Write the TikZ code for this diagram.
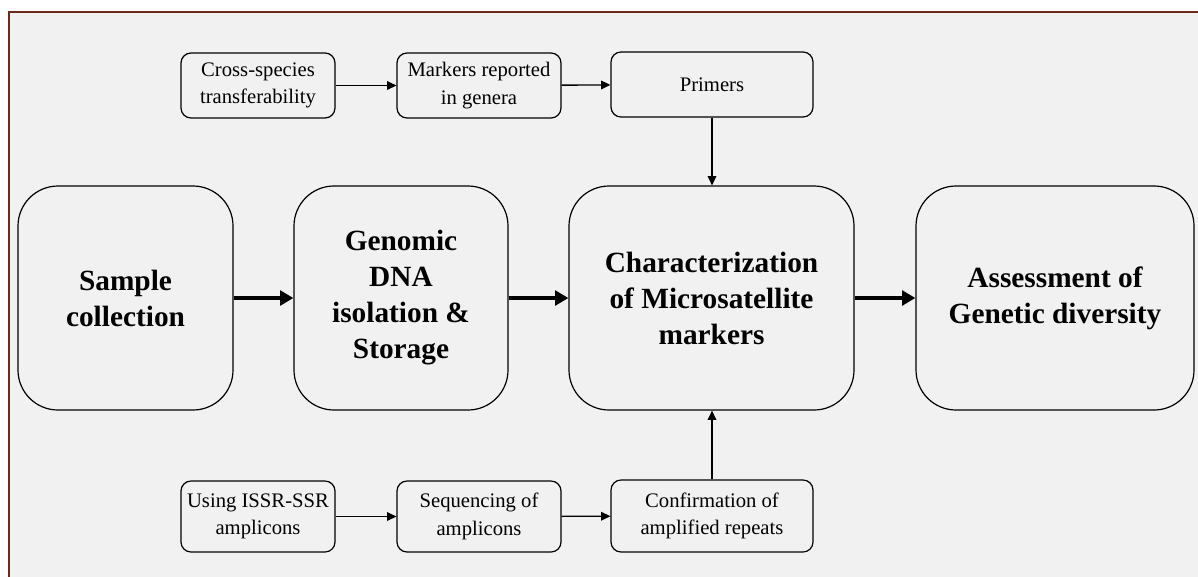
\documentclass[tikz,border=0pt]{standalone}
\usepackage{fontspec}
\setmainfont{Liberation Serif}
\usepackage{tikz}
\usetikzlibrary{arrows.meta,positioning}
\definecolor{panelgray}{HTML}{F1F1F1}
\definecolor{framebrown}{HTML}{6B2A1C}

\begin{document}
\begin{tikzpicture}[x=0.75pt, y=-0.75pt,
  small/.style={rectangle, draw, line width=0.9pt, rounded corners=7.5pt,
                minimum height=48.75pt, align=center,
                font=\fontsize{15.5}{20.5}\selectfont},
  big/.style={rectangle, draw, line width=0.9pt, rounded corners=30pt,
              minimum height=168pt, align=center,
              font=\fontsize{22}{27}\selectfont\bfseries},
  arr/.style={-{Triangle[length=7pt,width=6.5pt]}, line width=1pt},
  bigarr/.style={-{Triangle[length=10pt,width=11pt]}, line width=3.6pt},
]
  \useasboundingbox (0,0) rectangle (1198,576);
  \fill[white] (0,0) rectangle (1198,576);
  \clip (0,0) rectangle (1198,576);
  \draw[framebrown, line width=1.5pt, fill=panelgray] (9,12) rectangle (1210,590);

  % main chain
  \node[big, minimum width=161.25pt] (sample) at (125.5,298) {Sample\\collection};
  \node[big, minimum width=160.5pt] (dna) at (401,298) {Genomic\\DNA\\isolation \&\\Storage};
  \node[big, minimum width=213.75pt] (micro) at (711.5,298)
    {Characterization\\of Microsatellite\\markers};
  \node[big, minimum width=208.5pt] (assess) at (1055,298) {Assessment of\\Genetic diversity};

  % upper route
  \node[small, minimum width=115.5pt] (cross) at (258,85.5) {Cross-species\\transferability};
  \node[small, minimum width=123pt] (genera) at (479,85.5) {Markers reported\\in genera};
  \node[small, minimum width=151.5pt] (primers) at (712,84.5) {Primers};

  % lower route
  \node[small, minimum width=115.5pt, minimum height=53.25pt] (issr) at (258,516.5)
    {Using ISSR-SSR\\amplicons};
  \node[small, minimum width=123pt, minimum height=53.25pt] (seq) at (479,516.5)
    {Sequencing of\\amplicons};
  \node[small, minimum width=151.5pt, minimum height=54pt] (confirm) at (712,516)
    {Confirmation of\\amplified repeats};

  \draw[bigarr] (sample) -- (dna);
  \draw[bigarr] (dna) -- (micro);
  \draw[bigarr] (micro) -- (assess);

  \draw[arr] (cross) -- (genera);
  \draw[arr] (genera) -- (primers);
  \draw[arr] (primers.south) -- (primers.south |- micro.north);

  \draw[arr] (issr) -- (seq);
  \draw[arr] (seq) -- (confirm);
  \draw[arr] (confirm.north) -- (confirm.north |- micro.south);
\end{tikzpicture}
\end{document}
